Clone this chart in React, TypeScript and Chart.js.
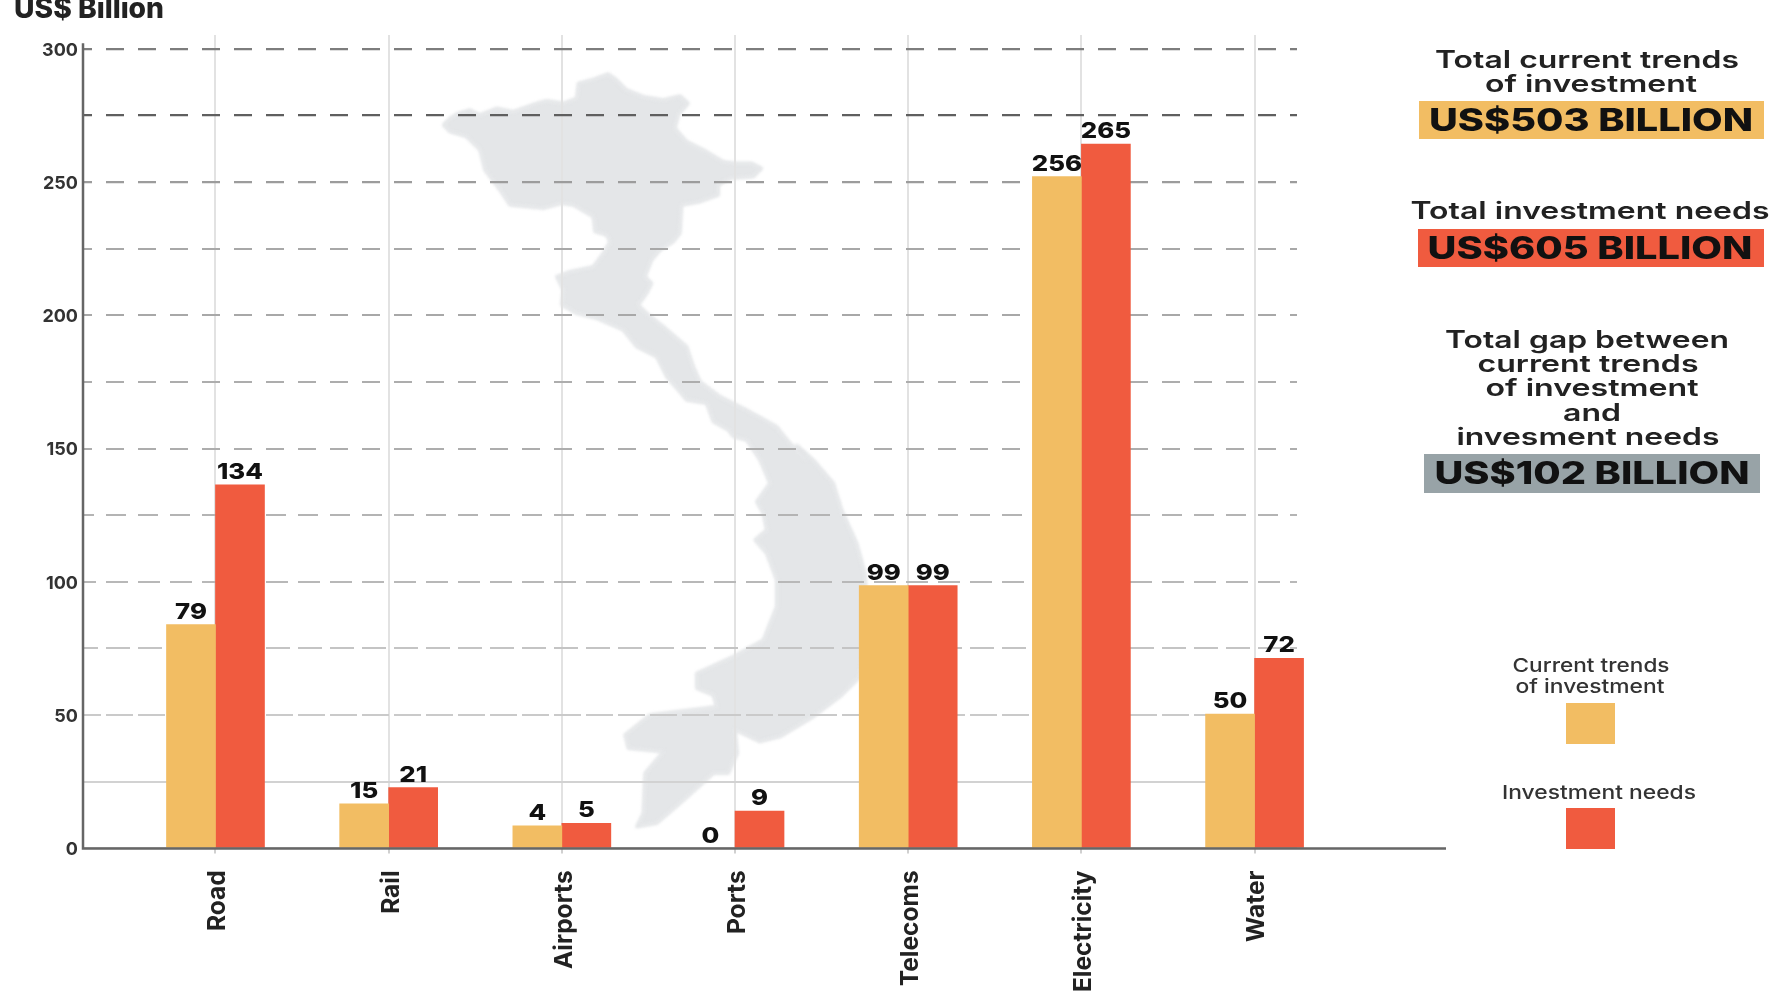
import React, { useEffect, useRef } from "react";
import { Chart, registerables } from "chart.js";

Chart.register(...registerables);

const categories = ["Road", "Rail", "Airports", "Ports", "Telecoms", "Electricity", "Water"];
// Printed figures, as they stand above each bar in the picture.
const currentTrendsPrinted = [79, 15, 4, 0, 99, 256, 50];
const investmentNeedsPrinted = [134, 21, 5, 9, 99, 265, 72];
// Bar heights as read against the axis (the source draws them slightly off the printed figures).
const currentTrendsHeights = [84, 16.7, 8.5, 0, 98.6, 252, 50.4];
const investmentNeedsHeights = [136.4, 22.8, 9.4, 14, 98.6, 264.2, 71.3];
const yTickValues = [0, 25, 50, 75, 100, 125, 150, 175, 200, 225, 250, 275, 300];

const ORANGE = "#F2BD63";
const RED = "#F05B3F";
const FONT = "Inter, 'Noto Sans', sans-serif";

const gridColor: Record<number, string> = {
  300: "#7d7d7d", 275: "#5f5f5f", 250: "#9c9c9c", 225: "#a8a8a8", 200: "#a8a8a8",
  175: "#adadad", 150: "#adadad", 125: "#b4b4b4", 100: "#b8b8b8", 75: "#c4c4c4",
  50: "#cacaca", 25: "#d2d2d2", 0: "#d2d2d2",
};
const gridDash: Record<number, number[]> = {
  125: [20, 12], 100: [22, 10], 75: [24, 8], 50: [27, 5], 25: [], 0: [],
};

// Vietnam silhouette behind the bars, traced on canvas pixels.
const mapNorth: [number, number][] = [
  [40,195],[60,175],[85,160],[120,150],[150,165],[200,145],[250,155],[320,130],[350,122],[400,130],[440,115],[445,70],
  [490,58],[535,42],[560,60],[590,90],[640,110],[700,120],[750,108],[775,130],[745,165],[735,205],[770,245],[830,275],
  [880,305],[915,310],[965,310],[995,325],[970,350],[900,355],[865,375],[865,405],[810,425],[755,435],[750,520],[730,545],
  [690,570],[665,600],[645,650],[665,670],[650,700],[625,735],[650,760],[700,800],[770,860],[790,920],[810,965],[870,1010],
  [950,1050],[1040,1100],[1080,1150],[1130,1200],
];
const mapSouth: [number, number][] = [
  [590,15],[640,60],[700,130],[725,210],[770,310],[795,400],[800,500],[800,620],[775,715],[720,770],[640,830],[540,890],
  [480,905],[405,870],[412,940],[385,1000],[340,1000],[240,1090],[170,1150],[110,1160],[130,1120],[135,1000],[190,935],
  [85,925],[75,885],[150,825],[270,810],[350,800],[340,765],[290,745],[290,700],[400,650],[490,600],[530,500],[530,420],
  [500,340],[465,300],[500,270],[490,220],[470,185],[510,130],[480,60],[440,0],
];
const mapNorthBack: [number, number][] = [
  [910,1130],[895,1110],[850,1085],[830,1030],[770,1020],[745,990],[710,950],[680,890],[620,860],[580,810],[500,775],
  [440,760],[395,735],[400,690],[380,650],[420,635],[490,620],[520,580],[540,545],[530,525],[495,515],[490,470],[430,435],
  [395,430],[340,445],[240,435],[210,390],[165,330],[150,270],[110,230],[60,215],
];

function fitText(ctx: CanvasRenderingContext2D, text: string, cx: number, cy: number, w: number, font: string, color: string) {
  ctx.save();
  ctx.font = font;
  ctx.fillStyle = color;
  ctx.textAlign = "center";
  ctx.textBaseline = "middle";
  const m = ctx.measureText(text).width;
  ctx.translate(cx, cy);
  ctx.scale(w / m, 1);
  ctx.fillText(text, 0, 0);
  ctx.restore();
}

const decorations = {
  id: "decorations",
  beforeDraw(chart: Chart) {
    const ctx = chart.ctx;
    const p = new Path2D();
    const n = (a: [number, number]): [number, number] => [430 + a[0] / 3, 60 + a[1] / 3];
    const s = (a: [number, number]): [number, number] => [600 + a[0] / 3, 440 + a[1] / 3];
    const pts = [...mapNorth.map(n), ...mapSouth.map(s), ...mapNorthBack.map(n)];
    pts.forEach(([x, y], i) => (i ? p.lineTo(x, y) : p.moveTo(x, y)));
    p.closePath();
    ctx.save();
    ctx.filter = "blur(1.5px)";
    ctx.fillStyle = "#E4E6E8";
    ctx.strokeStyle = "#E4E6E8";
    ctx.lineWidth = 3;
    ctx.lineJoin = "round";
    ctx.fill(p);
    ctx.stroke(p);
    ctx.restore();
  },
  afterDatasetsDraw(chart: Chart) {
    const ctx = chart.ctx;
    const { left, bottom } = chart.chartArea;
    const yScale = chart.scales.y;
    ctx.save();
    ctx.strokeStyle = "#666";
    ctx.lineWidth = 2.5;
    ctx.beginPath();
    ctx.moveTo(left, yScale.getPixelForValue(302));
    ctx.lineTo(left, bottom);
    ctx.lineTo(1446, bottom);
    ctx.stroke();
    ctx.restore();

    [currentTrendsPrinted, investmentNeedsPrinted].forEach((printed, d) => {
      chart.getDatasetMeta(d).data.forEach((bar: any, i: number) => {
        ctx.save();
        ctx.font = `800 22px ${FONT}`;
        ctx.fillStyle = "#111";
        ctx.textAlign = "center";
        ctx.textBaseline = "middle";
        ctx.translate(bar.x, bar.y - 12.5);
        ctx.scale(1.17, 1);
        ctx.fillText(String(printed[i]), 0, 0);
        ctx.restore();
      });
    });

    const head = `600 24px ${FONT}`;
    const big = `800 31px ${FONT}`;
    const ink = "#222";
    fitText(ctx, "US$ Billion", 89, 10, 150, `800 28px ${FONT}`, "#222");

    ctx.fillStyle = ORANGE;
    ctx.fillRect(1419, 101, 345, 38);
    ctx.fillStyle = RED;
    ctx.fillRect(1418, 229, 346, 38);
    ctx.fillStyle = "#98A3A7";
    ctx.fillRect(1424, 454, 336, 39);

    fitText(ctx, "Total current trends", 1587, 61, 304, head, ink);
    fitText(ctx, "of investment", 1591, 85, 212, head, ink);
    fitText(ctx, "US$503 BILLION", 1591, 122, 324, big, "#111");
    fitText(ctx, "Total investment needs", 1590, 212, 359, head, ink);
    fitText(ctx, "US$605 BILLION", 1590, 249.5, 325, big, "#111");
    fitText(ctx, "Total gap between", 1587, 341, 284, head, ink);
    fitText(ctx, "current trends", 1588, 365, 221, head, ink);
    fitText(ctx, "of investment", 1592, 389, 213, head, ink);
    fitText(ctx, "and", 1592, 414, 58, head, ink);
    fitText(ctx, "invesment needs", 1588, 438, 263, head, ink);
    fitText(ctx, "US$102 BILLION", 1592, 475, 315, big, "#111");

    const small = `500 19px ${FONT}`;
    fitText(ctx, "Current trends", 1591, 666, 157, small, "#333");
    fitText(ctx, "of investment", 1590, 687, 149, small, "#333");
    fitText(ctx, "Investment needs", 1599, 793, 194, small, "#333");
    ctx.fillStyle = ORANGE;
    ctx.fillRect(1566, 703, 49, 41);
    ctx.fillStyle = RED;
    ctx.fillRect(1566, 808, 49, 41);
  },
};

export default function App() {
  const ref = useRef<HTMLCanvasElement>(null);
  useEffect(() => {
    const chart = new Chart(ref.current!, {
      type: "bar",
      data: {
        datasets: [
          {
            label: "Current trends of investment",
            data: currentTrendsHeights.map((y, x) => ({ x, y })),
            backgroundColor: ORANGE,
            barThickness: 49,
            clip: false,
          },
          {
            label: "Investment needs",
            data: investmentNeedsHeights.map((y, x) => ({ x, y })),
            backgroundColor: RED,
            barThickness: 49,
            clip: false,
          },
        ],
      },
      options: {
        responsive: false,
        animation: false,
        layout: { padding: { left: 0, top: 35, right: 479, bottom: 0 } },
        plugins: { legend: { display: false }, title: { display: false }, tooltip: { enabled: false } },
        scales: {
          x: {
            type: "linear",
            offset: false,
            min: -0.765,
            max: 6.245,
            border: { display: false },
            grid: { offset: false, color: "#e2e2e2", lineWidth: 2, tickLength: 5, tickColor: "#d0d0d0" },
            ticks: {
              autoSkip: false,
              minRotation: 90,
              maxRotation: 90,
              padding: 17,
              labelOffset: 2.5,
              color: "#222",
              font: { family: FONT, size: 24.5, weight: 700 },
              callback: (v: any) => categories[v as number],
            },
            afterBuildTicks: (s: any) => {
              s.ticks = categories.map((_, i) => ({ value: i }));
            },
            afterFit: (s: any) => {
              s.height = 142.6;
              s.paddingLeft = 0;
              s.paddingRight = 0;
            },
          },
          y: {
            min: 0,
            max: 305.13,
            border: {
              display: false,
              dash: (c: any) => gridDash[c.tick?.value] ?? [18, 14],
              dashOffset: 9,
            },
            grid: {
              drawTicks: false,
              lineWidth: (c: any) => (c.tick?.value >= 250 ? 2.2 : 2),
              color: (c: any) => gridColor[c.tick?.value] ?? "#bbb",
            },
            ticks: {
              autoSkip: false,
              padding: 5,
              labelOffset: 1.5,
              color: "#333",
              font: { family: FONT, size: 18, weight: 700 },
              callback: (v: any) => ((v as number) % 50 === 0 ? String(v) : ""),
            },
            afterBuildTicks: (s: any) => {
              s.ticks = yTickValues.map((value) => ({ value }));
            },
            afterFit: (s: any) => {
              s.width = 83;
              s.paddingTop = 0;
              s.paddingBottom = 0;
            },
          },
        },
      },
      plugins: [decorations],
    } as any);
    return () => chart.destroy();
  }, []);
  return (
    <canvas
      ref={ref}
      width={1776}
      height={991}
      style={{ position: "absolute", left: 0, top: 0, width: 1776, height: 991, filter: "blur(0.6px)" }}
    />
  );
}
